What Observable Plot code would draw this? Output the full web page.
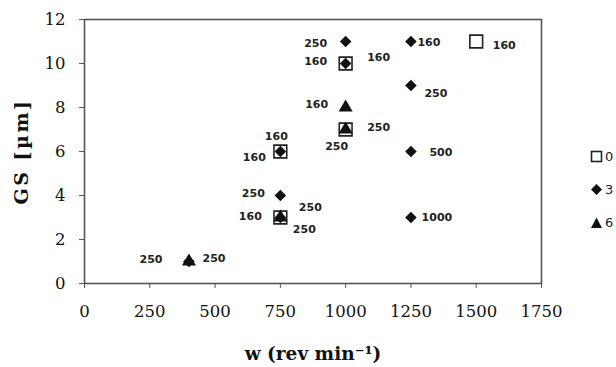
<!DOCTYPE html>
<html>
<head>
<meta charset="utf-8">
<script src="https://cdn.jsdelivr.net/npm/d3@7"></script>
<script src="https://cdn.jsdelivr.net/npm/@observablehq/plot@0.6"></script>
<style>
  body { margin: 0; background: #fff; }
  #wrap { position: relative; width: 616px; height: 367px; overflow: hidden; }
  #legend { position: absolute; left: 590px; top: 140px; font: 13px "DejaVu Sans", sans-serif; color: #222; }
  #legend div { height: 33px; display: flex; align-items: center; gap: 2px; }
</style>
</head>
<body>
<div id="wrap"></div>
<script>
// ---- data ----
const seriesNames = ["0", "3", "6"];
const series = ["0","0","0","0","0",
                "3","3","3","3","3","3","3","3","3","3",
                "6","6","6","6"];
const w  = [750, 750, 1000, 1000, 1500,
            400, 750, 750, 750, 1000, 1000, 1250, 1250, 1250, 1250,
            400, 750, 1000, 1000];
const gs = [3, 6, 7, 10, 11,
            1, 3, 4, 6, 10, 11, 11, 9, 6, 3,
            1, 3, 7, 8];
const labels = ["160","160","250","160","160",
                "250","250","250","160","160","250","160","250","500","1000",
                "250","250","250","160"];
const xTicks = [0, 250, 500, 750, 1000, 1250, 1500, 1750];
const yTicks = [0, 2, 4, 6, 8, 10, 12];

// ---- label placement (pixel offsets, style only) ----
const labelDx = [-30, -26, 33, -30, 28,
                 -38, 30, -27, -4, 33, -30, 18, 25, 30, 26,
                 25, 24, -9, -29];
const labelDy = [-1, 6, -2, -2, 4,
                 -2, -10, -2, -15, -6, 2, 1, 8, 1, 0,
                 -3, 12, 17, -3];

const data = series.map((s, i) => ({series: s, w: w[i], gs: gs[i], label: labels[i], dx: labelDx[i], dy: labelDy[i]}));

const symbolMap = {"0": "square", "3": "diamond2", "6": "triangle"};

const chart = Plot.plot({
  width: 616,
  height: 367,
  marginLeft: 84,
  marginRight: 75,
  marginTop: 19,
  marginBottom: 84,
  style: {background: "#fff", overflow: "visible"},
  x: {domain: [0, 1750]},
  y: {domain: [0, 12]},
  symbol: {domain: seriesNames, range: seriesNames.map(s => symbolMap[s])},
  marks: [
    Plot.frame({stroke: "#555", strokeWidth: 1.6}),
    Plot.axisX({ticks: xTicks, tickFormat: d => String(d), tickSize: 5, tickPadding: 17, stroke: "#555",
      fontSize: 16.5, fontFamily: "DejaVu Serif", fill: "#111",
      label: "w (rev min⁻¹)", labelAnchor: "center", labelArrow: "none", labelOffset: 76}),
    Plot.axisY({ticks: yTicks, tickFormat: d => String(d), tickSize: 5, tickPadding: 14, stroke: "#555",
      fontSize: 16.5, fontFamily: "DejaVu Serif", fill: "#111",
      label: "GS [µm]", labelAnchor: "center", labelArrow: "none", labelOffset: 70}),
    Plot.dot(data.filter(d => d.series === "0"), {x: "w", y: "gs", symbol: "series", r: 7.2, stroke: "#222", strokeWidth: 1.6, fill: "none"}),
    Plot.dot(data.filter(d => d.series !== "0"), {x: "w", y: "gs", symbol: "series", r: 5.2, fill: "#111", stroke: "none"}),
    ...data.map(d => Plot.text([d], {x: "w", y: "gs", text: "label", dx: d.dx, dy: d.dy,
      fontSize: 11, fontWeight: "bold", fontFamily: "DejaVu Sans", fill: "#222"}))
  ]
});

// style axis titles
d3.select(chart).selectAll("g[aria-label='x-axis label'] text")
  .attr("font-family", "DejaVu Serif").attr("font-weight", "bold").attr("font-size", 18.5).attr("fill", "#111");
d3.select(chart).selectAll("g[aria-label='y-axis label'] text")
  .attr("font-family", "DejaVu Serif").attr("font-weight", "bold").attr("font-size", 19).attr("letter-spacing", 2.5).attr("fill", "#111");

document.getElementById("wrap").appendChild(chart);

// legend
const legend = document.createElement("div");
legend.id = "legend";
const legendSym = {"0": '<rect x="1.5" y="1.5" width="10" height="10" fill="none" stroke="#222" stroke-width="1.6"/>',
                   "3": '<path d="M6.5 1 L12 6.5 L6.5 12 L1 6.5 Z" fill="#111"/>',
                   "6": '<path d="M6.5 1.5 L12 12 L1 12 Z" fill="#111"/>'};
seriesNames.forEach(s => {
  const row = document.createElement("div");
  row.innerHTML = `<svg width="13" height="13">${legendSym[s]}</svg><span>${s}</span>`;
  legend.appendChild(row);
});
document.getElementById("wrap").appendChild(legend);
</script>
</body>
</html>
